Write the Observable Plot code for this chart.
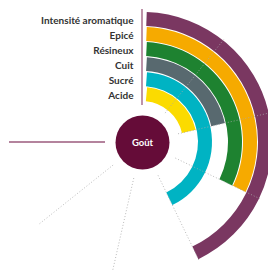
<!DOCTYPE html>
<html>
<head>
<meta charset="utf-8">
<script src="https://cdn.jsdelivr.net/npm/d3@7"></script>
<script src="https://cdn.jsdelivr.net/npm/@observablehq/plot@0.6"></script>
<style>
  html, body { margin: 0; padding: 0; background: #fff; }
  svg { display: block; }
</style>
</head>
<body>
<div id="chart"></div>
<script>
const categories = ["Intensité aromatique", "Epicé", "Résineux", "Cuit", "Sucré", "Acide"];
const values = [4, 3, 3, 2, 4, 2];
const colors = ["#7a3761", "#f6aa00", "#1e8230", "#58696f", "#00b3c3", "#fbdb00"];
const ticks = [0, 1, 2, 3, 4, 5, 6, 7];
const centerLabel = "Goût";

const data = categories.map((c, i) => ({category: c, value: values[i], color: colors[i]}));

const W = 268, H = 270, mL = 16, mT = 14;
const cx = mL + (W - mL) / 2, cy = mT + (H - mT) / 2;
const rIn = 37, rOut = 133;

function bw(scales) {
  const b = scales.y.bandwidth;
  return typeof b === "function" ? b() : b;
}

function arcRender(index, scales, vals) {
  const g = d3.create("svg:g").attr("transform", `translate(${cx},${cy})`);
  const arc = d3.arc();
  const h = bw(scales);
  for (const i of index) {
    const ro = cy - vals.y[i];
    const ri = ro - h;
    const rm = (ro + ri) / 2;
    g.append("path")
      .attr("d", arc({innerRadius: ri, outerRadius: ro, startAngle: vals.x1[i] + 4.5 / rm, endAngle: vals.x2[i]}))
      .attr("fill", vals.fill[i]);
  }
  return g.node();
}

function gridRender(index, scales, vals) {
  const g = d3.create("svg:g").attr("transform", `translate(${cx},${cy})`);
  for (const i of index) {
    const a = vals.x[i];
    const t = ticks[i];
    const edge = t === 0 || t === ticks[ticks.length - 1];
    g.append("line")
      .attr("x1", rIn * Math.sin(a)).attr("y1", -rIn * Math.cos(a))
      .attr("x2", rOut * Math.sin(a)).attr("y2", -rOut * Math.cos(a))
      .attr("stroke", edge ? "#9b5a7c" : "#a8a8a8")
      .attr("stroke-width", edge ? 1.3 : 0.8)
      .attr("stroke-dasharray", edge ? null : "1,2");
  }
  return g.node();
}

const chart = Plot.plot({
  width: W,
  height: H,
  marginLeft: mL,
  marginTop: mT,
  marginRight: 0,
  marginBottom: 0,
  style: {fontFamily: "Lato, sans-serif", background: "#fff"},
  x: {type: "linear", domain: [0, 7], range: [0, 1.5 * Math.PI], axis: null},
  y: {type: "band", domain: categories, range: [cy - 132, cy - 39.5], paddingInner: 0.1, paddingOuter: 0, axis: null},
  marks: [
    Plot.barX(data, {x: "value", y: "category", fill: "color", render: arcRender}),
    Plot.ruleX(ticks, {x: d => d, render: gridRender}),
    Plot.text(data, {y: "category", text: "category", frameAnchor: "middle", dx: -9, dy: 1, textAnchor: "end", fill: "#333", fontSize: 10, fontWeight: "bold"}),
    Plot.dot([centerLabel], {x: null, y: null, frameAnchor: "middle", r: 27, fill: "#650c38", stroke: null}),
    Plot.text([centerLabel], {x: null, y: null, frameAnchor: "middle", text: d => d, fill: "#fff", fontSize: 9.5, fontWeight: "bold"})
  ]
});
document.getElementById("chart").append(chart);
</script>
</body>
</html>
